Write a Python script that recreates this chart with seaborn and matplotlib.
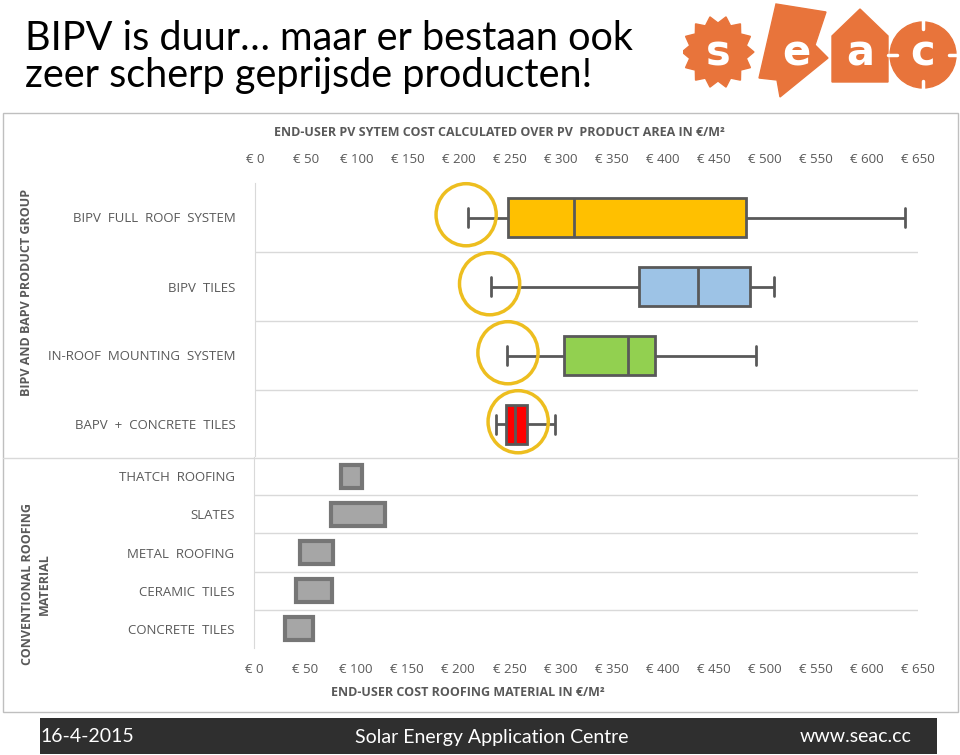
import numpy as np
import pandas as pd
import matplotlib
matplotlib.use("Agg")
import matplotlib.pyplot as plt
import matplotlib.patches as mpatches
import seaborn as sns

# BIPV / BAPV product groups: whisker low, Q1, median, Q3, whisker high (EUR/m2)
pv_groups = ["BIPV  FULL  ROOF  SYSTEM", "BIPV  TILES", "IN-ROOF  MOUNTING  SYSTEM", "BAPV  +  CONCRETE  TILES"]
pv_low = [209, 231, 247, 236]
pv_q1 = [248, 376, 303, 246]
pv_median = [313, 434, 366, 255]
pv_q3 = [481, 485, 392, 267]
pv_high = [637, 509, 491, 294]
pv_colors = ["#FFC000", "#9DC3E6", "#92D050", "#FF0000"]
# centres of the yellow highlight circles
circle_x = [207, 230, 248, 258]

# conventional roofing material cost ranges (EUR/m2)
roof_materials = ["THATCH  ROOFING", "SLATES", "METAL  ROOFING", "CERAMIC  TILES", "CONCRETE  TILES"]
roof_low = [85, 75, 45, 41, 30]
roof_high = [106, 128, 77, 76, 58]

ticks = list(range(0, 651, 50))
tick_labels = [f"€ {t}" for t in ticks]

W, H = 960, 755
GREY = "#595959"
LIGHT = "#D9D9D9"


def fx(x):
    return x / W


def fy(y):
    return 1 - y / H


sns.set_style("white")
plt.rcParams["font.family"] = ["Open Sans", "DejaVu Sans"]

fig = plt.figure(figsize=(9.6, 7.55), dpi=100)

# slide frame
fig.patches.append(mpatches.Rectangle((fx(3), fy(712)), fx(955), 599 / H, transform=fig.transFigure,
                                      fill=False, edgecolor="#BFBFBF", linewidth=1))
fig.add_artist(plt.Line2D([fx(3), fx(958)], [fy(458), fy(458)], color=LIGHT, linewidth=1))

# title
fig.text(fx(25), fy(57), "BIPV is duur… maar er bestaan ook\nzeer scherp geprijsde producten!",
         fontsize=28.5, family=["Lato", "DejaVu Sans"], color="black", va="center", ha="left",
         linespacing=1.0)

# ---- top panel: box plots
df = pd.DataFrame({
    "group": np.repeat(pv_groups, 5),
    "cost": np.column_stack([pv_low, pv_q1, pv_median, pv_q3, pv_high]).ravel(),
})

ax1 = fig.add_axes([fx(255), fy(459), 663 / W, 276 / H])
sns.boxplot(data=df, x="cost", y="group", hue="group", palette=pv_colors, legend=False,
            whis=(0, 100), width=0.56, linecolor=GREY, linewidth=2, saturation=1, ax=ax1)
ax1.set_xlim(0, 650)
ax1.set_ylim(3.5, -0.5)
ax1.xaxis.tick_top()
ax1.set_xticks(ticks, tick_labels)
ax1.tick_params(axis="x", length=0, pad=12, labelsize=9.5, labelcolor=GREY)
ax1.tick_params(axis="y", length=0, pad=14, labelsize=9.5, labelcolor=GREY)
ax1.set_xlabel("")
ax1.set_ylabel("")
for i in range(3):
    ax1.axhline(i + 0.5, color=LIGHT, linewidth=1, zorder=0)
for s in ["top", "right", "bottom"]:
    ax1.spines[s].set_visible(False)
ax1.spines["left"].set_color(LIGHT)

for i, cx in enumerate(circle_x):
    ax1.add_patch(mpatches.Ellipse((cx, i - 0.04), 59, 0.9, fill=False, edgecolor="#EDBE1F",
                                   linewidth=2.5, clip_on=False, zorder=5))

fig.text(0.52, fy(132), "END-USER PV SYTEM COST CALCULATED OVER PV  PRODUCT AREA IN €/M²",
         ha="center", va="center", fontsize=9, fontweight="bold", color=GREY)
fig.text(fx(27), fy(292), "BIPV AND BAPV PRODUCT GROUP", rotation=90, ha="center", va="center",
         fontsize=9, fontweight="bold", color=GREY)

# ---- bottom panel: cost ranges
ax2 = fig.add_axes([fx(254), fy(648), 664 / W, 191 / H])
ypos = np.arange(len(roof_materials))
ax2.barh(ypos, np.array(roof_high) - np.array(roof_low), left=roof_low, height=0.6,
         color="#A6A6A6", edgecolor="#767676", linewidth=3)
ax2.set_yticks(ypos, roof_materials)
ax2.set_ylim(4.5, -0.5)
ax2.set_xlim(0, 650)
ax2.set_xticks(ticks, tick_labels)
ax2.tick_params(axis="x", length=5, color=LIGHT, pad=6, labelsize=9.5, labelcolor=GREY)
ax2.tick_params(axis="y", length=0, pad=14, labelsize=9.5, labelcolor=GREY)
for i in range(4):
    ax2.axhline(i + 0.5, color=LIGHT, linewidth=1, zorder=0)
for s in ["top", "right", "bottom"]:
    ax2.spines[s].set_visible(False)
ax2.spines["left"].set_color(LIGHT)

fig.text(fx(468), fy(692), "END-USER COST ROOFING MATERIAL IN €/M²", ha="center", va="center",
         fontsize=9, fontweight="bold", color=GREY)
fig.text(fx(36), fy(584), "CONVENTIONAL ROOFING\nMATERIAL", rotation=90, ha="center", va="center",
         fontsize=9, fontweight="bold", color=GREY, linespacing=1.3)

# ---- footer bar
fig.patches.append(mpatches.Rectangle((fx(40), fy(754)), 897 / W, 36 / H, transform=fig.transFigure,
                                      facecolor="#2F2F2F", edgecolor="none"))
foot = dict(fontsize=14, color="white", va="center", family=["Lato", "DejaVu Sans"])
fig.text(fx(40), fy(737), "16-4-2015", ha="left", **foot)
fig.text(fx(492), fy(737), "Solar Energy Application Centre", ha="center", **foot)
fig.text(fx(912), fy(737), "www.seac.cc", ha="right", **foot)

# ---- logo
ORANGE = "#E8743B"
axl = fig.add_axes([fx(683), fy(100), 275 / W, 97 / H])
axl.set_xlim(683, 958)
axl.set_ylim(100, 3)
axl.axis("off")
ang = np.linspace(0, 2 * np.pi, 29)[:-1]
rad = np.where(np.arange(28) % 2 == 0, 36, 29)
axl.add_patch(mpatches.Polygon(np.column_stack([718 + rad * np.cos(ang), 52 + rad * np.sin(ang)]),
                               color=ORANGE))
axl.add_patch(mpatches.Polygon([(776, 4), (826, 12), (815, 45), (828, 58), (780, 97), (777, 80), (759, 78)],
                               color=ORANGE))
axl.add_patch(mpatches.Polygon([(832, 82), (832, 36), (860, 9), (888, 36), (888, 82)], color=ORANGE))
axl.add_patch(mpatches.Circle((923, 55), 33, color=ORANGE))
for x0, y0, x1, y1 in [(923, 20, 923, 29), (923, 81, 923, 90), (888, 55, 897, 55), (949, 55, 958, 55)]:
    axl.plot([x0, x1], [y0, y1], color="white", linewidth=2.5)
for lx, ch in zip([718, 796, 860, 923], "seac"):
    axl.text(lx, 54, ch, ha="center", va="center", fontsize=30, fontweight="bold", color="white",
             family=["DejaVu Sans"])

fig.savefig("out.png", dpi=100)
